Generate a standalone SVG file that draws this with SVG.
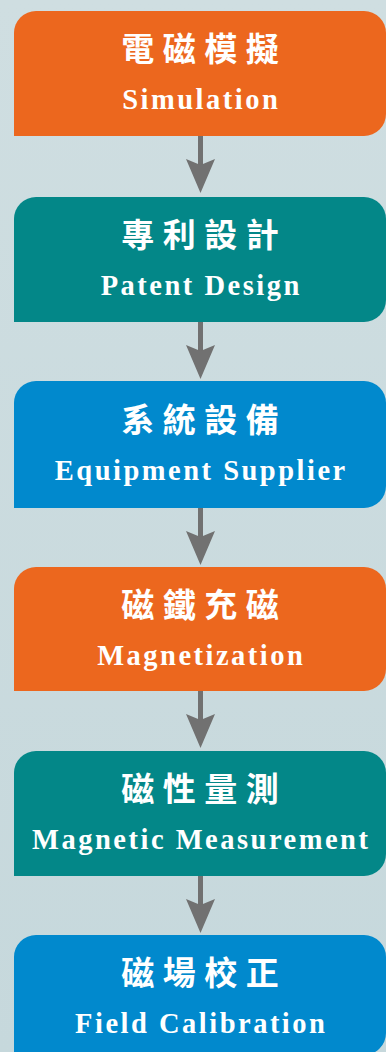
<svg xmlns="http://www.w3.org/2000/svg" width="386" height="1052" viewBox="0 0 386 1052">
<defs>
<linearGradient id="bg" x1="0" y1="0" x2="0" y2="1">
<stop offset="0" stop-color="#CFDEE1"/>
<stop offset="1" stop-color="#C6D8DC"/>
</linearGradient>
<style>
.orange{fill:#EC671E}
.teal{fill:#038788}
.blue{fill:#0189CD}
.zh{font-family:"Noto Sans CJK TC","Noto Sans CJK SC",sans-serif;font-weight:700;font-size:33px;fill:#FFFFFF;text-anchor:middle;letter-spacing:8.5px}
.en{font-family:"Liberation Serif","Times New Roman",serif;font-weight:700;font-size:28.5px;fill:#FFFFFF;text-anchor:middle;letter-spacing:2.5px}
.shaft{stroke:#717171;stroke-width:5;fill:none}
.head{fill:#717171}
</style>
</defs>
<rect x="0" y="0" width="386" height="1052" fill="url(#bg)"/>
<g id="connectors">
<line class="shaft" x1="200.5" y1="136" x2="200.5" y2="165"/>
<polygon class="head" points="186,159 200.5,165 215,159 200.5,193"/>
<line class="shaft" x1="200.5" y1="322" x2="200.5" y2="351"/>
<polygon class="head" points="186,345 200.5,351 215,345 200.5,379"/>
<line class="shaft" x1="200.5" y1="508" x2="200.5" y2="537"/>
<polygon class="head" points="186,531 200.5,537 215,531 200.5,565"/>
<line class="shaft" x1="200.5" y1="691" x2="200.5" y2="720"/>
<polygon class="head" points="186,714 200.5,720 215,714 200.5,748"/>
<line class="shaft" x1="200.5" y1="876" x2="200.5" y2="905"/>
<polygon class="head" points="186,899 200.5,905 215,899 200.5,933"/>
</g>
<g id="node-simulation">
<path class="orange" d="M14,136 V33 A22,22 0 0 1 36,11 H364 A22,22 0 0 1 386,33 V114 A22,22 0 0 1 364,136 Z"/>
<text class="zh" x="204.25" y="61">電磁模擬</text>
<text class="en" x="201.25" y="109">Simulation</text>
</g>
<g id="node-patent-design">
<path class="teal" d="M14,322 V219 A22,22 0 0 1 36,197 H364 A22,22 0 0 1 386,219 V300 A22,22 0 0 1 364,322 Z"/>
<text class="zh" x="204.25" y="247">專利設計</text>
<text class="en" x="201.25" y="295">Patent Design</text>
</g>
<g id="node-equipment-supplier">
<path class="blue" d="M14,508 V403 A22,22 0 0 1 36,381 H364 A22,22 0 0 1 386,403 V486 A22,22 0 0 1 364,508 Z"/>
<text class="zh" x="204.25" y="432">系統設備</text>
<text class="en" x="201.25" y="480">Equipment Supplier</text>
</g>
<g id="node-magnetization">
<path class="orange" d="M14,691 V589 A22,22 0 0 1 36,567 H364 A22,22 0 0 1 386,589 V669 A22,22 0 0 1 364,691 Z"/>
<text class="zh" x="204.25" y="617">磁鐵充磁</text>
<text class="en" x="201.25" y="665">Magnetization</text>
</g>
<g id="node-magnetic-measurement">
<path class="teal" d="M14,876 V773 A22,22 0 0 1 36,751 H364 A22,22 0 0 1 386,773 V854 A22,22 0 0 1 364,876 Z"/>
<text class="zh" x="204.25" y="801">磁性量測</text>
<text class="en" x="201.25" y="849">Magnetic Measurement</text>
</g>
<g id="node-field-calibration">
<path class="blue" d="M14,1060 V957 A22,22 0 0 1 36,935 H364 A22,22 0 0 1 386,957 V1033 A22,22 0 0 1 364,1055 Z"/>
<text class="zh" x="204.25" y="985">磁場校正</text>
<text class="en" x="201.25" y="1033">Field Calibration</text>
</g>
</svg>
